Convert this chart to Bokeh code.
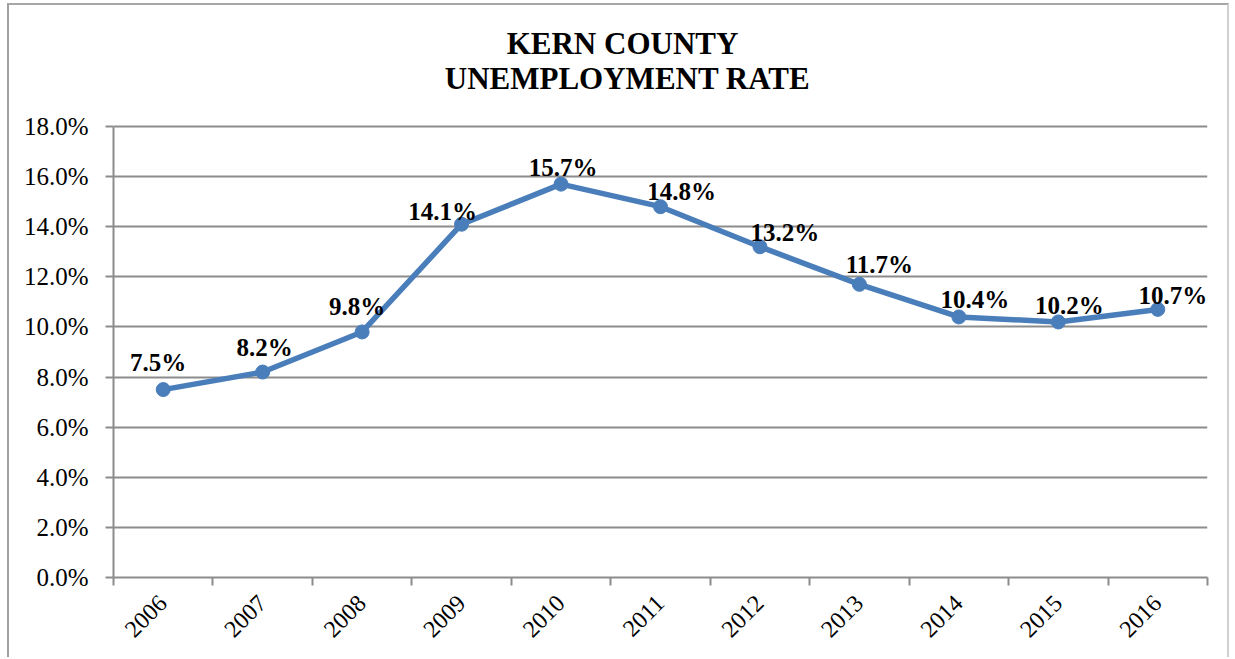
from bokeh.plotting import figure
from bokeh.models import (ColumnDataSource, FixedTicker, PrintfTickFormatter, Range1d,
                          LabelSet, Label)
from bokeh.embed import file_html
from bokeh.resources import INLINE
import math

# ---- data ----
years = ["2006", "2007", "2008", "2009", "2010", "2011", "2012", "2013", "2014", "2015", "2016"]
rates = [7.5, 8.2, 9.8, 14.1, 15.7, 14.8, 13.2, 11.7, 10.4, 10.2, 10.7]
rate_labels = ["7.5%", "8.2%", "9.8%", "14.1%", "15.7%", "14.8%", "13.2%", "11.7%", "10.4%", "10.2%", "10.7%"]
y_ticks = [0, 2, 4, 6, 8, 10, 12, 14, 16, 18]
title_line1 = "KERN COUNTY"
title_line2 = "UNEMPLOYMENT RATE"

# ---- style (label nudges in pixels, positive dy = up) ----
label_dx = [-5, 2, -5, -19, 2, 21, 25, 20, 16, 11, 15]
label_dy = [27, 25, 25, 13, 17, 15, 14, 20, 17, 16, 14]

FONT = "Liberation Serif"
BLUE = "#4A7EBB"
GRAY = "#8C8C8C"

xpos = [i + 0.5 for i in range(len(years))]
y_max = max(y_ticks)
# frame runs up to the top of the chart area so the title can sit inside it
y_top = y_max * (577 - 5) / (577 - 126)

src = ColumnDataSource(dict(x=xpos, y=rates, t=rate_labels, dx=label_dx, dy=label_dy))

p = figure(width=1222, height=654, output_backend="svg", toolbar_location=None,
           x_range=Range1d(0, len(years)), y_range=Range1d(0, y_top),
           min_border_left=104, min_border_right=24, min_border_top=0, min_border_bottom=82)
p.outline_line_color = None
p.background_fill_color = "white"
p.border_fill_color = "white"
p.styles = {"border-left": "2px solid #A0A0A0", "border-top": "2px solid #A6A6A6",
            "border-right": "2px solid #D0D0D0", "margin-left": "7px", "margin-top": "3px"}

# title
p.add_layout(Label(x=len(years) / 2, y=y_max, x_offset=-38, y_offset=83, text=title_line1,
                   text_font=FONT, text_font_size="31px", text_font_style="bold",
                   text_color="black", text_align="center", text_baseline="middle"))
p.add_layout(Label(x=len(years) / 2, y=y_max, x_offset=-33, y_offset=48, text=title_line2,
                   text_font=FONT, text_font_size="31px", text_font_style="bold",
                   text_color="black", text_align="center", text_baseline="middle"))

p.line("x", "y", source=src, line_color=BLUE, line_width=5.5)
p.scatter("x", "y", source=src, size=14, fill_color=BLUE, line_color=BLUE)

labels = LabelSet(x="x", y="y", text="t", source=src, x_offset="dx", y_offset="dy",
                  text_font=FONT, text_font_size="25px", text_font_style="bold",
                  text_color="black", text_align="center", text_baseline="middle")
p.add_layout(labels)

# y axis
p.yaxis.ticker = FixedTicker(ticks=y_ticks)
p.yaxis.bounds = (0, y_max)
p.yaxis.formatter = PrintfTickFormatter(format="%.1f%%")
p.yaxis.major_label_text_font = FONT
p.yaxis.major_label_text_font_size = "25px"
p.yaxis.major_label_text_color = "black"
p.yaxis.axis_line_color = GRAY
p.yaxis.axis_line_width = 2
p.yaxis.major_tick_line_color = GRAY
p.yaxis.major_tick_line_width = 2
p.yaxis.major_tick_in = 0
p.yaxis.major_tick_out = 8
p.yaxis.minor_tick_line_color = None
p.yaxis.major_label_standoff = 17

# x axis: labels at centres, tick marks at category boundaries
p.xaxis.ticker = FixedTicker(ticks=xpos, minor_ticks=list(range(len(years) + 1)))
p.xaxis.major_label_overrides = {x: y for x, y in zip(xpos, years)}
p.xaxis.major_label_orientation = math.pi / 4
p.xaxis.major_label_text_font = FONT
p.xaxis.major_label_text_font_size = "24px"
p.xaxis.major_label_text_color = "black"
p.xaxis.major_tick_line_color = None
p.xaxis.major_tick_in = 0
p.xaxis.major_tick_out = 0
p.xaxis.minor_tick_line_color = GRAY
p.xaxis.minor_tick_line_width = 2
p.xaxis.minor_tick_in = 0
p.xaxis.minor_tick_out = 8
p.xaxis.axis_line_color = GRAY
p.xaxis.axis_line_width = 2
p.xaxis.major_label_standoff = 14

p.xgrid.grid_line_color = None
p.ygrid.grid_line_color = GRAY
p.ygrid.grid_line_width = 2

open("out.html", "w").write(file_html(p, INLINE))
